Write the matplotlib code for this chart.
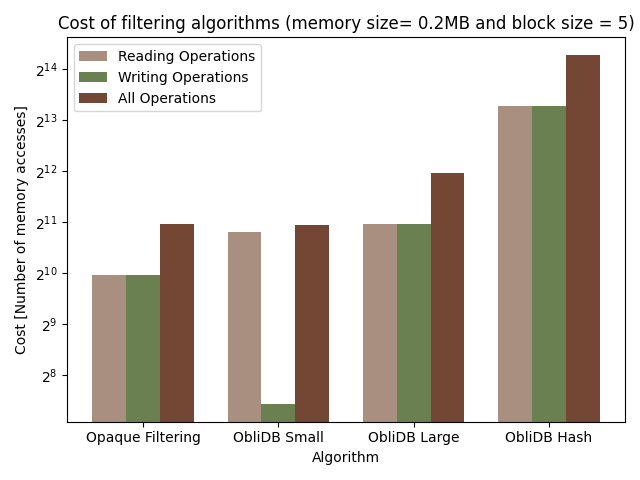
import matplotlib
matplotlib.use("Agg")
import matplotlib.pyplot as plt
import numpy as np

categories = ["Opaque Filtering", "ObliDB Small", "ObliDB Large", "ObliDB Hash"]
reading = [1000, 1800, 2000, 10000]
writing = [1000, 172, 2000, 10000]
all_ops = [2000, 1972, 4000, 20000]

colors = ["#a98f7f", "#6a8050", "#744634"]

fig, ax = plt.subplots(figsize=(6.4, 4.8), dpi=100)
x = np.arange(len(categories))
w = 0.25
ax.bar(x - w, reading, w, color=colors[0], label="Reading Operations")
ax.bar(x, writing, w, color=colors[1], label="Writing Operations")
ax.bar(x + w, all_ops, w, color=colors[2], label="All Operations")
ax.set_yscale("log", base=2)
ax.set_xticks(x)
ax.set_xticklabels(categories)
ax.set_xlabel("Algorithm")
ax.set_ylabel("Cost [Number of memory accesses]")
ax.set_title("Cost of filtering algorithms (memory size= 0.2MB and block size = 5)")
ax.legend(loc="upper left")
fig.tight_layout()
fig.savefig("out.png", dpi=100)
